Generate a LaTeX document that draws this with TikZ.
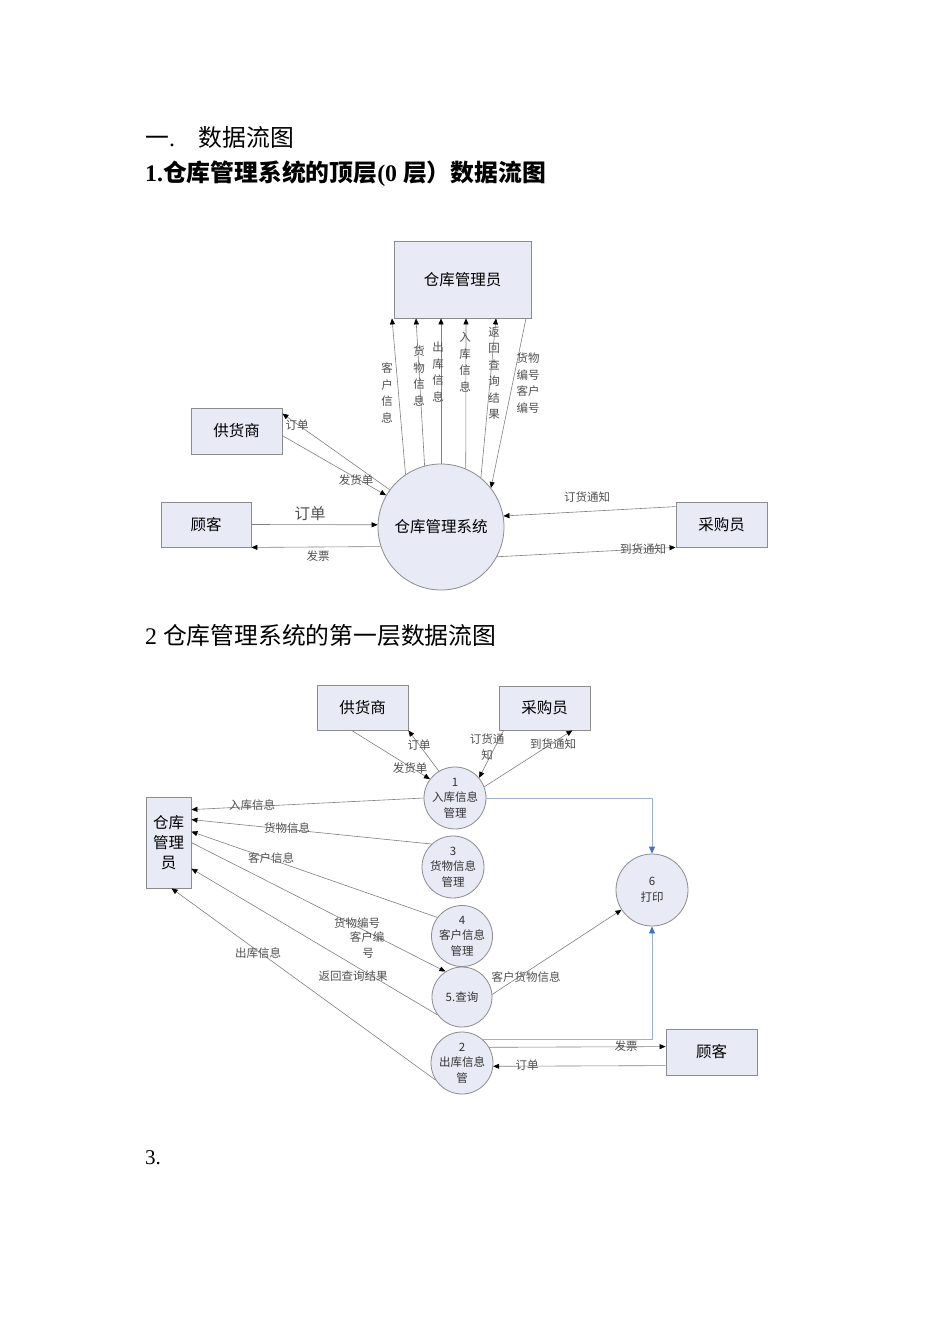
\documentclass[tikz,border=0pt]{standalone}
\usepackage{fontspec}
\setmainfont{Liberation Serif}
\newfontfamily\cjk{Noto Sans CJK SC}
\usetikzlibrary{arrows.meta}
\definecolor{boxfill}{HTML}{E8EAF5}
\definecolor{boxline}{HTML}{8C8C8C}
\definecolor{flowline}{HTML}{808080}
\definecolor{lbltext}{HTML}{505050}
\definecolor{blueline}{HTML}{9BB0D4}
\definecolor{bluetip}{HTML}{4472C4}
\begin{document}
\begin{tikzpicture}[x=1pt,y=-1pt,
 ebox/.style={draw=boxline,fill=boxfill,line width=0.8pt,inner sep=0pt,font=\cjk\fontsize{15.5}{19}\selectfont},
 proc/.style={circle,draw=boxline,fill=boxfill,line width=0.8pt,inner sep=0pt,align=center},
 flow/.style={draw=flowline,line width=0.6pt,-{Triangle[length=6pt,width=5pt,color=black]}},
 bflow/.style={draw=blueline,line width=0.8pt,-{Triangle[length=7pt,width=6pt,color=bluetip]}},
 lbl/.style={font=\cjk\fontsize{11.5}{14}\selectfont,text=lbltext,inner sep=0pt,align=center},
 vlbl/.style={font=\cjk\fontsize{11.5}{16.5}\selectfont,text=lbltext,inner sep=0pt,align=center},
 ptxt/.style={font=\cjk\fontsize{11.5}{15.5}\selectfont,text=black!80},
 head/.style={anchor=west,inner sep=0pt,font=\fontsize{23.8}{27}\selectfont}
]
\fill[white] (0,0) rectangle (950,1344);
\useasboundingbox (0,0) rectangle (950,1344);

% headings
\node[head] (h1) at (145,137) {{\cjk 一}.\hspace{24pt}{\cjk 数据流图}};
\node[head] (h2) at (145,174) {\bfseries 1.{\cjk 仓库管理系统的顶层}(0 {\cjk 层）数据流图}};
\node[head] (h3) at (145,635) {2 {\cjk 仓库管理系统的第一层数据流图}};
\node[head,font=\fontsize{21}{24}\selectfont] (h4) at (145,1158) {3.};

% ---------- top diagram ----------
\node[ebox,minimum width=137pt,minimum height=77pt] (mgr) at (462.5,279.5) {仓库管理员};
\node[ebox,minimum width=91pt,minimum height=46pt] (gh) at (236.5,431) {供货商};
\node[ebox,minimum width=90pt,minimum height=45pt] (gk) at (206,524.5) {顾客};
\node[ebox,minimum width=91pt,minimum height=45pt] (cg) at (721.5,524.5) {采购员};
\node[proc,minimum size=126pt,font=\cjk\fontsize{15.5}{19}\selectfont] (sys) at (441,527) {仓库管理系统};

\draw[flow] (sys.124) -- ([xshift=-70.5pt]mgr.south);
\draw[flow] (sys.105) -- ([xshift=-46.5pt]mgr.south);
\draw[flow] (sys.90) -- ([xshift=-21.5pt]mgr.south);
\draw[flow] (sys.67) -- ([xshift=3.5pt]mgr.south);
\draw[flow] (sys.51) -- ([xshift=33.5pt]mgr.south);
\draw[flow] ([xshift=63.5pt]mgr.south) -- (sys.38);
\draw[flow] (sys.144) -- ([yshift=-6pt]gh.north east);
\draw[flow] ([yshift=-28pt]gh.north east) -- (sys.150);
\draw[flow] (gk.east) -- (sys.178);
\draw[flow] (sys.198) -- (gk.south east);
\draw[flow] ([yshift=-5pt]cg.north west) -- (sys.10);
\draw[flow] (sys.-28) -- (cg.south west);

\node[vlbl] (t1) at (387,393) {客\\户\\信\\息};
\node[vlbl] (t2) at (419,376) {货\\物\\信\\息};
\node[vlbl] (t3) at (438,372) {出\\库\\信\\息};
\node[vlbl] (t4) at (465,362) {入\\库\\信\\息};
\node[vlbl] (t5) at (494,373) {返\\回\\查\\询\\结\\果};
\node[vlbl] (t6) at (528,383) {货物\\编号\\客户\\编号};
\node[lbl] (t7) at (297,425) {订单};
\node[lbl] (t8) at (356,480) {发货单};
\node[lbl,font=\cjk\fontsize{15.5}{18}\selectfont] (t9) at (310,514) {订单};
\node[lbl] (t10) at (318,556) {发票};
\node[lbl] (t11) at (587,497) {订货通知};
\node[lbl] (t12) at (643,549) {到货通知};

% ---------- first-level diagram ----------
\node[ebox,minimum width=91pt,minimum height=45pt] (gh2) at (362.5,707.5) {供货商};
\node[ebox,minimum width=91pt,minimum height=44pt] (cg2) at (544.5,708) {采购员};
\node[ebox,minimum width=45pt,minimum height=91pt,align=center,font=\cjk\fontsize{15.5}{20}\selectfont] (mgr2) at (168.5,842.5) {仓库\\管理\\员};
\node[ebox,minimum width=91pt,minimum height=46pt] (gk2) at (711.5,1052) {顾客};
\node[proc,minimum size=62pt,ptxt] (c1) at (455,798) {1\\入库信息\\管理};
\node[proc,minimum size=62pt,ptxt] (c3) at (453,867) {3\\货物信息\\管理};
\node[proc,minimum size=60pt,ptxt] (c4) at (462,936) {4\\客户信息\\管理};
\node[proc,minimum size=60pt,ptxt] (c5) at (462,997) {5.查询};
\node[proc,minimum size=62pt,ptxt] (c2) at (462,1063) {2\\出库信息\\管};
\node[proc,minimum size=72pt,ptxt] (c6) at (652,890) {6\\打印};

\draw[flow] (c1.121) -- (gh2.south east);
\draw[flow] ([xshift=35pt]gh2.south west) -- (c1.143);
\draw[flow] ([xshift=5pt]cg2.south west) -- (c1.40);
\draw[flow] (c1.21) -- ([xshift=-18pt]cg2.south east);
\draw[flow] (c1.west) -- ([yshift=-13pt]mgr2.north east);
\draw[flow] (c3.133) -- ([yshift=-23pt]mgr2.north east);
\draw[flow] (c4.143) -- ([yshift=-35pt]mgr2.north east);
\draw[flow] ([yshift=-46pt]mgr2.north east) -- (c5.123);
\draw[flow] (c5.216) -- ([yshift=-72pt]mgr2.north east);
\draw[flow] (c2.213) -- ([xshift=26pt]mgr2.south west);
\draw[flow] (c5.5) -- (c6.213);
\draw[bflow] (c1.east) -| (c6.north);
\draw[bflow] (c2.48) -| (c6.south);
\draw[flow] (c2.30) -- ([yshift=-18pt]gk2.north west);
\draw[flow] ([yshift=-37pt]gk2.north west) -- (c2.-6);

\node[lbl] (s1) at (419,745) {订单};
\node[lbl] (s2) at (410,768) {发货单};
\node[lbl,font=\cjk\fontsize{11.5}{16}\selectfont] (s3) at (487,747) {订货通\\知};
\node[lbl] (s4) at (553,744) {到货通知};
\node[lbl] (s5) at (252,805) {入库信息};
\node[lbl] (s6) at (287,828) {货物信息};
\node[lbl] (s7) at (271,858) {客户信息};
\node[lbl] (s8) at (357,923) {货物编号};
\node[lbl] (s9) at (367,937) {客户编};
\node[lbl] (s10) at (368,953) {号};
\node[lbl] (s11) at (353,976) {返回查询结果};
\node[lbl] (s12) at (258,953) {出库信息};
\node[lbl] (s13) at (526,977) {客户货物信息};
\node[lbl] (s14) at (626,1046) {发票};
\node[lbl] (s15) at (527,1065) {订单};
\end{tikzpicture}
\end{document}
